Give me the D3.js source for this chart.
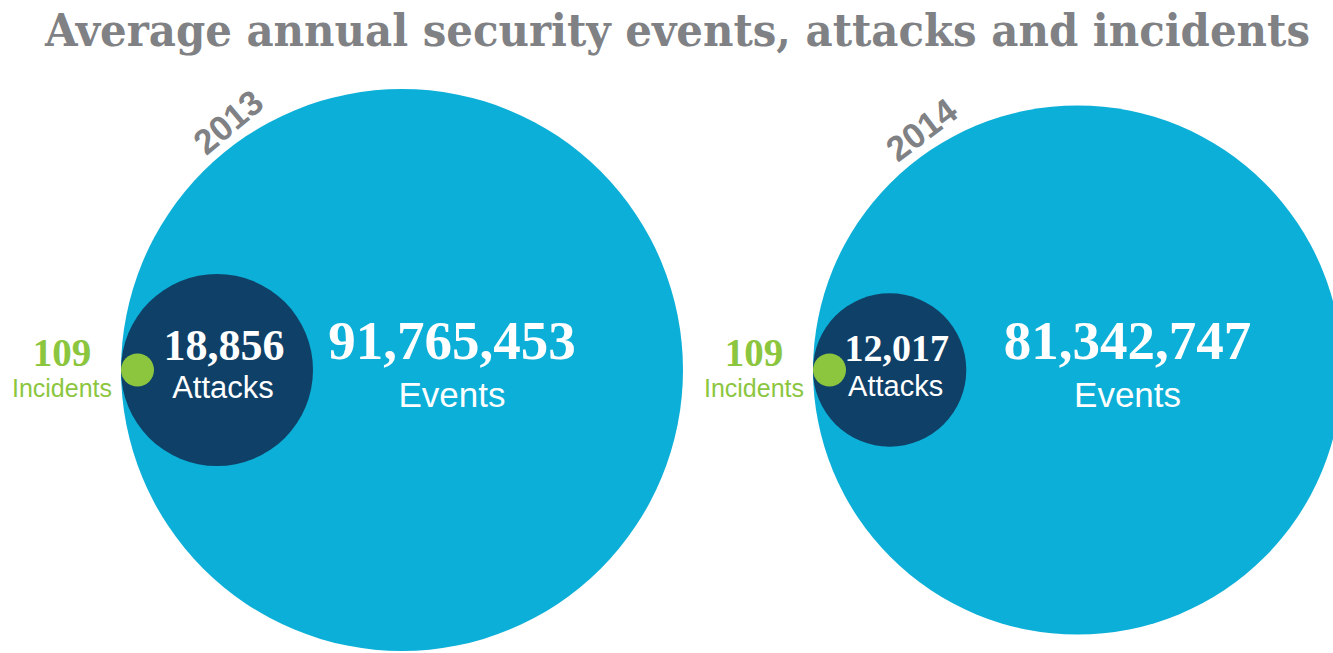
<!DOCTYPE html>
<html>
<head>
<meta charset="utf-8">
<script src="https://cdn.jsdelivr.net/npm/d3@7"></script>
<style>
  body { margin: 0; background: #fff; }
  svg { display: block; }
</style>
</head>
<body>
<svg width="1333" height="653"></svg>
<script>
// chart data
var years = ['2013', '2014'];
var events = [91765453, 81342747];
var attacks = [18856, 12017];
var incidents = [109, 109];

var svg = d3.select('svg');
var width = +svg.attr('width');
var height = +svg.attr('height');

var cyan = '#0cafd7', navy = '#0f4068', green = '#8cc63f', gray = '#808184';
var serif = '"Liberation Serif", serif';
var sans = '"Liberation Sans", Arial, sans-serif';

// circle sizes by area
var eventScale = d3.scaleSqrt().domain([0, d3.max(events)]).range([0, 281]);
var attackScale = d3.scaleSqrt().domain([0, d3.max(attacks)]).range([0, 96]);
var incidentScale = d3.scaleSqrt().domain([0, d3.max(incidents)]).range([0, 16.5]);

// left edge where all three circles touch
var leftEdge = d3.scaleOrdinal().domain(years).range([121, 813]);
var cy = 370;
var fmt = d3.format(',');

var data = years.map(function(y, i) {
  return { year: y, events: events[i], attacks: attacks[i], incidents: incidents[i], i: i };
});

// title
svg.append('text')
    .attr('x', 45)
    .attr('y', 46)
    .attr('fill', gray)
    .attr('textLength', 1265)
    .attr('lengthAdjust', 'spacingAndGlyphs')
    .style('font-family', '"DejaVu Serif Condensed", "DejaVu Serif", serif')
    .style('font-weight', 'bold')
    .style('font-size', '44px')
    .text('Average annual security events, attacks and incidents');

var g = svg.selectAll('.year')
    .data(data)
    .enter()
    .append('g')
    .attr('class', 'year');

g.append('circle')
    .attr('cx', function(d) { return leftEdge(d.year) + eventScale(d.events); })
    .attr('cy', cy)
    .attr('r', function(d) { return eventScale(d.events); })
    .attr('fill', cyan);

g.append('circle')
    .attr('cx', function(d) { return leftEdge(d.year) + attackScale(d.attacks); })
    .attr('cy', cy)
    .attr('r', function(d) { return attackScale(d.attacks); })
    .attr('fill', navy);

g.append('circle')
    .attr('cx', function(d) { return leftEdge(d.year) + incidentScale(d.incidents); })
    .attr('cy', cy)
    .attr('r', function(d) { return incidentScale(d.incidents); })
    .attr('fill', green);

// year labels along the top of each circle
g.append('text')
    .attr('transform', function(d) {
      var r = eventScale(d.events);
      var cx = leftEdge(d.year) + r;
      var a = (d.i === 0 ? -35 : -33) * Math.PI / 180;
      var rr = r + 22;
      var x = cx + rr * Math.sin(a), y = cy - rr * Math.cos(a);
      return 'translate(' + x + ',' + y + ') rotate(' + (d.i === 0 ? -40 : -37) + ')';
    })
    .attr('text-anchor', 'middle')
    .attr('dy', '0.35em')
    .attr('fill', gray)
    .style('font-family', sans)
    .style('font-weight', 'bold')
    .style('font-size', '35px')
    .text(function(d) { return d.year; });

// events labels
g.append('text')
    .attr('x', function(d) { return leftEdge(d.year) + eventScale(d.events) + 50; })
    .attr('y', 359)
    .attr('text-anchor', 'middle')
    .attr('fill', '#fff')
    .style('font-family', serif)
    .style('font-weight', 'bold')
    .style('font-size', '55px')
    .text(function(d) { return fmt(d.events); });

g.append('text')
    .attr('x', function(d) { return leftEdge(d.year) + eventScale(d.events) + 50; })
    .attr('y', 407)
    .attr('text-anchor', 'middle')
    .attr('fill', '#fff')
    .style('font-family', sans)
    .style('font-size', '35px')
    .text('Events');

// attacks labels
g.append('text')
    .attr('x', function(d) { return leftEdge(d.year) + attackScale(d.attacks) + 7; })
    .attr('y', function(d) { return d.i === 0 ? 360 : 361; })
    .attr('text-anchor', 'middle')
    .attr('fill', '#fff')
    .style('font-family', serif)
    .style('font-weight', 'bold')
    .style('font-size', function(d) { return d.i === 0 ? '44px' : '38px'; })
    .text(function(d) { return fmt(d.attacks); });

g.append('text')
    .attr('x', function(d) { return leftEdge(d.year) + attackScale(d.attacks) + 6; })
    .attr('y', function(d) { return d.i === 0 ? 398 : 396; })
    .attr('text-anchor', 'middle')
    .attr('fill', '#fff')
    .style('font-family', sans)
    .style('font-size', function(d) { return d.i === 0 ? '31px' : '29px'; })
    .text('Attacks');

// incidents labels, outside to the left
g.append('text')
    .attr('x', function(d) { return leftEdge(d.year) - 59; })
    .attr('y', 366)
    .attr('text-anchor', 'middle')
    .attr('fill', green)
    .style('font-family', serif)
    .style('font-weight', 'bold')
    .style('font-size', '39px')
    .text(function(d) { return fmt(d.incidents); });

g.append('text')
    .attr('x', function(d) { return leftEdge(d.year) - 59; })
    .attr('y', 397)
    .attr('text-anchor', 'middle')
    .attr('fill', green)
    .style('font-family', sans)
    .style('font-size', '25px')
    .text('Incidents');
</script>
</body>
</html>
